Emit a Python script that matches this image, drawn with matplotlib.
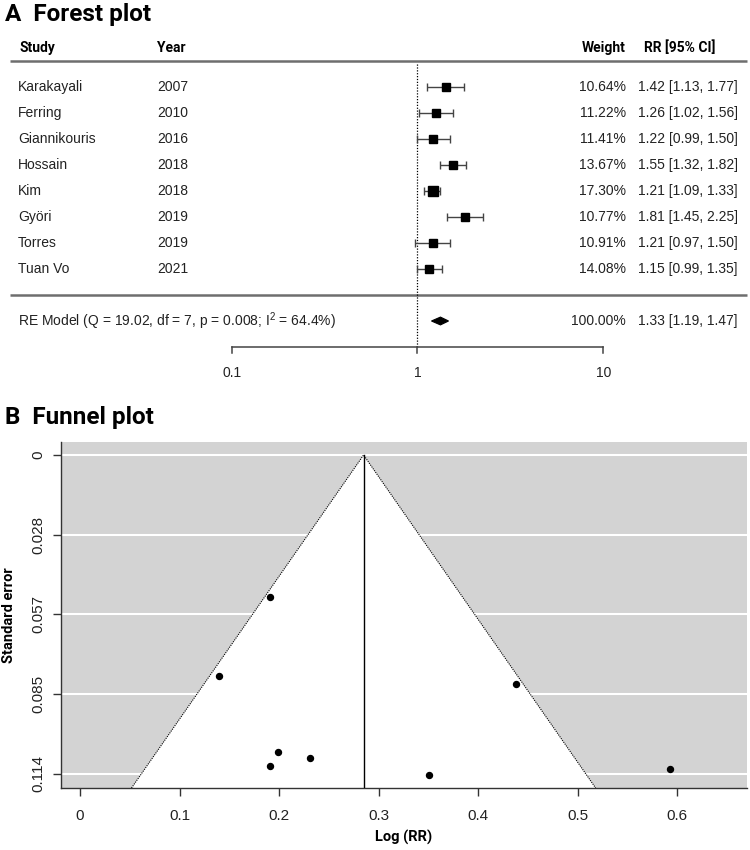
import matplotlib
matplotlib.use("Agg")
import matplotlib.pyplot as plt
from matplotlib.patches import Polygon
import matplotlib.transforms as mtransforms
import numpy as np

plt.rcParams['font.family'] = ['Liberation Sans', 'DejaVu Sans']
plt.rcParams['mathtext.fontset'] = 'custom'
plt.rcParams['mathtext.rm'] = 'Liberation Sans'
plt.rcParams['mathtext.it'] = 'Liberation Sans:italic'
plt.rcParams['mathtext.bf'] = 'Liberation Sans:bold'

# ---------------- data ----------------
studies = ["Karakayali", "Ferring", "Giannikouris", "Hossain", "Kim", "Györi", "Torres", "Tuan Vo"]
years = [2007, 2010, 2016, 2018, 2018, 2019, 2019, 2021]
weights = [10.64, 11.22, 11.41, 13.67, 17.30, 10.77, 10.91, 14.08]
rr = [1.42, 1.26, 1.22, 1.55, 1.21, 1.81, 1.21, 1.15]
rr_lo = [1.13, 1.02, 0.99, 1.32, 1.09, 1.45, 0.97, 0.99]
rr_hi = [1.77, 1.56, 1.50, 1.82, 1.33, 2.25, 1.50, 1.35]
re_label = r"RE Model (Q = 19.02, df = 7, p = 0.008; I$^{\mathrm{2}}$ = 64.4%)"
re_weight = 100.00
re_rr, re_lo, re_hi = 1.33, 1.19, 1.47
forest_ticks = [0.1, 1, 10]
forest_ticklabels = ["0.1", "1", "10"]

# funnel plot data (log RR, standard error)
log_rr = [0.351, 0.231, 0.199, 0.438, 0.191, 0.593, 0.191, 0.140]
std_err = [0.1145, 0.1084, 0.1060, 0.0819, 0.0508, 0.1121, 0.1112, 0.0791]
pooled_log_rr = 0.285
funnel_xticks = [0, 0.1, 0.2, 0.3, 0.4, 0.5, 0.6]
funnel_xticklabels = ["0", "0.1", "0.2", "0.3", "0.4", "0.5", "0.6"]
funnel_yticks = [0, 0.0285, 0.057, 0.0855, 0.114]
funnel_yticklabels = ["0", "0.028", "0.057", "0.085", "0.114"]

W, H = 750, 850
fig = plt.figure(figsize=(7.5, 8.5), dpi=100)

BOLD = dict(family=['Roboto', 'DejaVu Sans'], fontweight='bold')

# ---------------- Panel A: forest plot ----------------
# axes covering top 400 px; rows: y_px = 87 + 26*(k-1)
top_px = 400
axA = fig.add_axes([0, 1 - top_px / H, 1, top_px / H])
def px2row(p):
    return (p - 87) / 26 + 1
axA.set_ylim(px2row(top_px), px2row(0))
axA.set_xscale('log')
axA.set_xlim(10 ** (-1 - 232 / 186), 10 ** (1 + (W - 603) / 186))
axA.axis('off')
bt = mtransforms.blended_transform_factory(axA.transAxes, axA.transData)

fig.text(5 / W, 1 - 14 / H, "A  Forest plot", fontsize=17.5, va='center', ha='left', **BOLD)

hdr_row = -0.5
axA.text(19 / W, hdr_row, "Study", transform=bt, fontsize=10, va='center', ha='left', **BOLD)
axA.text(157 / W, hdr_row, "Year", transform=bt, fontsize=10, va='center', ha='left', **BOLD)
axA.text(626 / W, hdr_row, "Weight", transform=bt, fontsize=10, va='center', ha='right', **BOLD)
axA.text(644 / W, hdr_row, "RR [95% CI]", transform=bt, fontsize=10, va='center', ha='left', **BOLD)

line_col = '#6e6e6e'
axA.plot([10 / W, 747 / W], [0, 0], transform=bt, color=line_col, lw=1.8, solid_capstyle='butt')
axA.plot([10 / W, 747 / W], [9, 9], transform=bt, color=line_col, lw=1.8, solid_capstyle='butt')

# reference dotted line at RR = 1
axA.plot([1, 1], [0.1, 11], color='black', lw=0.9, ls=(0, (1, 1.3)))

wmin, wmax = min(weights), max(weights)
for i, (s, yr, w, r, lo, hi) in enumerate(zip(studies, years, weights, rr, rr_lo, rr_hi)):
    k = i + 1
    axA.text(18 / W, k, s, transform=bt, fontsize=10, va='center', ha='left', color='#222222')
    axA.text(157 / W, k, str(yr), transform=bt, fontsize=10, va='center', ha='left', color='#222222')
    axA.text(626 / W, k, f"{w:.2f}%", transform=bt, fontsize=10, va='center', ha='right', color='#222222')
    axA.text(738 / W, k, f"{r:.2f} [{lo:.2f}, {hi:.2f}]", transform=bt, fontsize=10,
             va='center', ha='right', color='#222222')
    axA.errorbar([r], [k], xerr=[[r - lo], [hi - r]], fmt='none', ecolor='#444444',
                 elinewidth=1.0, capsize=2.6, capthick=1.0)
    ms = 5.3 + 1.2 * (w - wmin) / (wmax - wmin)
    axA.plot([r], [k], marker='s', color='black', ms=ms, ls='none', zorder=5)

# RE model row
kre = 10
axA.text(18 / W, kre, re_label, transform=bt, fontsize=10, va='center', ha='left', color='#222222')
axA.text(626 / W, kre, f"{re_weight:.2f}%", transform=bt, fontsize=10, va='center', ha='right', color='#222222')
axA.text(738 / W, kre, f"{re_rr:.2f} [{re_lo:.2f}, {re_hi:.2f}]", transform=bt, fontsize=10,
         va='center', ha='right', color='#222222')
dh = 0.15
diamond = Polygon([[re_lo, kre], [re_rr, kre - dh], [re_hi, kre], [re_rr, kre + dh]],
                  closed=True, facecolor='black', edgecolor='black', lw=0.8, zorder=5)
axA.add_patch(diamond)

# custom x axis
kax = 11
axA.plot([forest_ticks[0], forest_ticks[-1]], [kax, kax], color='#444444', lw=1.1)
for t, lab in zip(forest_ticks, forest_ticklabels):
    axA.plot([t, t], [kax, kax + 0.24], color='#444444', lw=1.1)
    axA.text(t, 12.0, lab, fontsize=10, ha='center', va='center', color='#222222')

# ---------------- Panel B: funnel plot ----------------
fig.text(5 / W, 1 - 418 / H, "B  Funnel plot", fontsize=17.5, va='center', ha='left', **BOLD)

L, R, T, B = 61, 747, 442, 788
axB = fig.add_axes([L / W, 1 - B / H, (R - L) / W, (B - T) / H])
xppu = 995.0
yppu = 2798.0
axB.set_xlim(-19 / xppu, 0.6 + (R - 677) / xppu)
ymin = -13 / yppu
ymax = 0.114 + 14 / yppu
axB.set_ylim(ymax, ymin)
axB.set_facecolor('#d3d3d3')

for yt in funnel_yticks:
    axB.axhline(yt, color='white', lw=1.5, zorder=1)

half = 1.96 * ymax
tri = Polygon([[pooled_log_rr - half, ymax], [pooled_log_rr, 0], [pooled_log_rr + half, ymax]],
              closed=True, facecolor='white', edgecolor='none', zorder=2)
axB.add_patch(tri)
axB.plot([pooled_log_rr - half, pooled_log_rr, pooled_log_rr + half], [ymax, 0, ymax],
         color='black', lw=0.8, ls=(0, (1, 1)), zorder=3)
axB.plot([pooled_log_rr, pooled_log_rr], [0, ymax], color='black', lw=1.0, zorder=3)

axB.plot(log_rr, std_err, 'o', color='black', ms=4.3, zorder=4)

for sp in ['top', 'right']:
    axB.spines[sp].set_visible(False)
for sp in ['left', 'bottom']:
    axB.spines[sp].set_color('#333333')
    axB.spines[sp].set_linewidth(1.0)

axB.set_xticks(funnel_xticks)
axB.set_xticklabels(funnel_xticklabels)
axB.set_yticks(funnel_yticks)
axB.set_yticklabels(funnel_yticklabels, rotation=90, va='center')
axB.tick_params(axis='both', direction='out', length=6, width=1.0, color='#333333',
                labelsize=11, labelcolor='#222222')
axB.tick_params(axis='x', pad=9)
axB.tick_params(axis='y', pad=5)

axB.set_xlabel("Log (RR)", fontsize=10.5, **BOLD)
axB.set_ylabel("Standard error", fontsize=10.5, **BOLD)
axB.xaxis.set_label_coords(0.5, -(837 - B) / (B - T), transform=axB.transAxes)
axB.xaxis.label.set_va('center')
axB.yaxis.set_label_coords(-(L - 9) / (R - L), 0.5, transform=axB.transAxes)
axB.yaxis.label.set_va('center')

fig.savefig("out.png", dpi=100)
